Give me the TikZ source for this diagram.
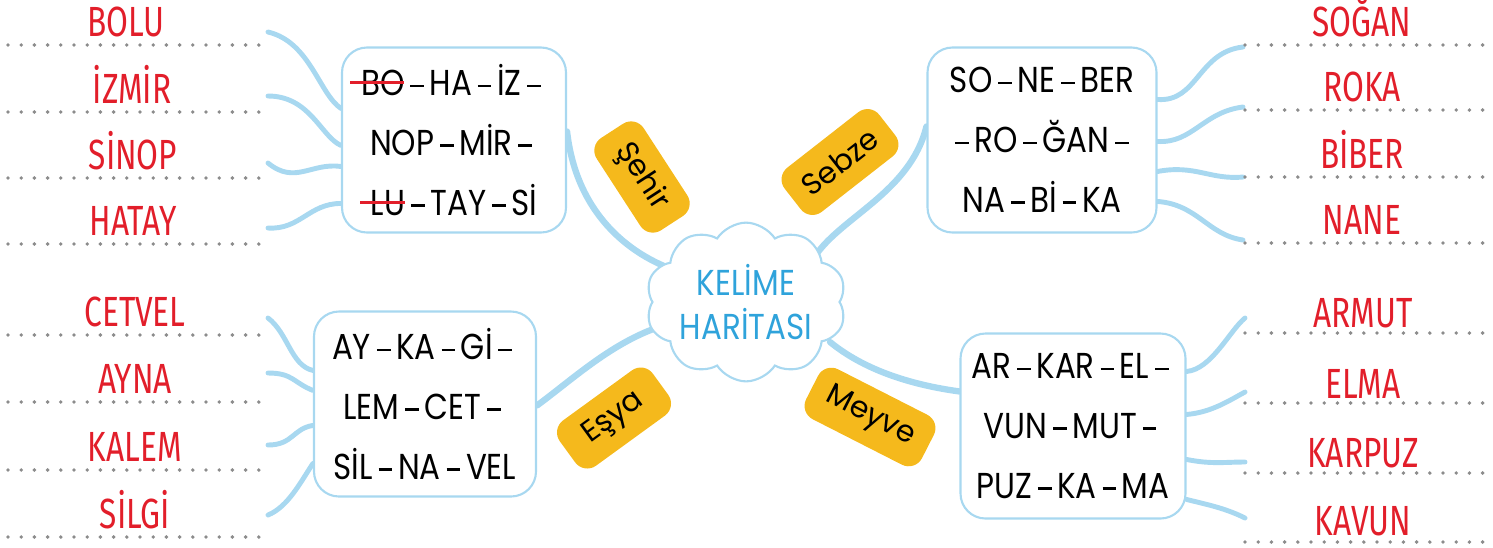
\documentclass[tikz,border=0pt]{standalone}
\usepackage{fontspec}
\setmainfont{Poppins}[FakeStretch=0.86]
\newfontfamily\tagfont{Poppins}
\newfontfamily\answerfont[FakeStretch=0.75]{Fira Sans}
\usetikzlibrary{shapes.symbols,calc,backgrounds}
\definecolor{linkblue}{HTML}{A8D8F0}
\definecolor{titleblue}{HTML}{2FA3DB}
\definecolor{tagorange}{HTML}{F5B91C}
\definecolor{wordred}{HTML}{E21E2A}
\definecolor{dotgray}{HTML}{8C8C8C}
\newcommand{\crossout}[1]{\setbox0=\hbox{#1}\copy0\llap{\textcolor{wordred}{\rule[0.45\ht0]{\dimexpr\wd0+0.3em\relax}{1.6pt}}}}
\newcommand{\sylsep}{\kern0.16em\rule[0.24em]{0.38em}{0.07em}\kern0.16em}
\begin{document}
\begin{tikzpicture}[x=0.2mm,y=0.2mm,
  every node/.style={inner sep=0pt},
  wordbox/.style={draw=linkblue,line width=1.2pt,fill=white,rounded corners=5mm,minimum height=37mm,align=center,font=\fontsize{20.5}{34}\selectfont},
  topic/.style={fill=tagorange,rounded corners=3mm,minimum width=22mm,minimum height=11.2mm,font=\tagfont\fontsize{17}{17}\selectfont},
  answer/.style={anchor=base,text=wordred,font=\answerfont\fontsize{24}{24}\selectfont},
  answerline/.style={draw=dotgray,line width=2.2pt,line cap=round,dash pattern=on 0pt off 2.64mm},
  twig/.style={draw=linkblue,line width=2.8pt,line cap=round},
  branch/.style={draw=linkblue,line width=3.6pt,line cap=round}]
\useasboundingbox (0,0) rectangle (1493,-547);

\node[cloud,cloud puffs=10,cloud puff arc=115,aspect=1.4,draw=linkblue,line width=1.2pt,fill=white,minimum width=39mm,minimum height=28.5mm,align=center,text=titleblue,font=\fontsize{20.5}{25.5}\selectfont] (kelime) at (746,-302) {KELİME\\HARİTASI};

\node[wordbox,minimum width=44.8mm] (sehirbox) at (454,-140) {\crossout{BO}\sylsep HA\sylsep İZ\sylsep\\NOP\sylsep MİR\sylsep\\\crossout{LU}\sylsep TAY\sylsep Sİ};
\node[wordbox,minimum width=45.8mm] (sebzebox) at (1042,-140) {SO\sylsep NE\sylsep BER\\\sylsep RO\sylsep ĞAN\sylsep\\NA\sylsep Bİ\sylsep KA};
\node[wordbox,minimum width=44.4mm] (esyabox) at (425,-404) {AY\sylsep KA\sylsep Gİ\sylsep\\LEM\sylsep CET\sylsep\\SİL\sylsep NA\sylsep VEL};
\node[wordbox,minimum width=45mm] (meyvebox) at (1073,-426) {AR\sylsep KAR\sylsep EL\sylsep\\VUN\sylsep MUT\sylsep\\PUZ\sylsep KA\sylsep MA};

\node[topic,rotate=-57] (sehirtag) at (642,-177) {Şehir};
\node[topic,rotate=38,minimum width=24mm] (sebzetag) at (840,-162) {Sebze};
\node[topic,rotate=36,minimum width=23mm] (esyatag) at (614,-418) {Eşya};
\node[topic,rotate=-27,minimum width=26mm] (meyvetag) at (870,-417) {Meyve};

\node[answer] (bolu) at (126,-36) {BOLU};
\node[answer] (izmir) at (132,-103) {İZMİR};
\node[answer] (sinop) at (133,-169) {SİNOP};
\node[answer] (hatay) at (133,-235) {HATAY};
\node[answer] (cetvel) at (135,-326) {CETVEL};
\node[answer] (ayna) at (135,-393) {AYNA};
\node[answer] (kalem) at (135,-461) {KALEM};
\node[answer] (silgi) at (135,-528) {SİLGİ};
\node[answer] (sogan) at (1362,-36) {SOĞAN};
\node[answer] (roka) at (1362,-101) {ROKA};
\node[answer] (biber) at (1362,-168) {BİBER};
\node[answer] (nane) at (1362,-234) {NANE};
\node[answer] (armut) at (1363,-327) {ARMUT};
\node[answer] (elma) at (1363,-398) {ELMA};
\node[answer] (karpuz) at (1363,-467) {KARPUZ};
\node[answer] (kavun) at (1363,-535) {KAVUN};

\draw[answerline] (8,-45) -- (268,-45);
\draw[answerline] (8,-112) -- (268,-112);
\draw[answerline] (8,-178) -- (268,-178);
\draw[answerline] (8,-244) -- (268,-244);
\draw[answerline] (8,-335) -- (268,-335);
\draw[answerline] (8,-402) -- (268,-402);
\draw[answerline] (8,-470) -- (268,-470);
\draw[answerline] (8,-537) -- (268,-537);
\draw[answerline] (1245,-45) -- (1485,-45);
\draw[answerline] (1245,-110) -- (1485,-110);
\draw[answerline] (1245,-177) -- (1485,-177);
\draw[answerline] (1245,-243) -- (1485,-243);
\draw[answerline] (1245,-333) -- (1485,-333);
\draw[answerline] (1245,-403) -- (1485,-403);
\draw[answerline] (1245,-473) -- (1485,-473);
\draw[answerline] (1245,-542) -- (1485,-542);

\coordinate (bolu-end) at (268,-32);
\coordinate (izmir-end) at (268,-96);
\coordinate (sinop-end) at (268,-163);
\coordinate (hatay-end) at (268,-228);
\coordinate (cetvel-end) at (268,-318);
\coordinate (ayna-end) at (268,-373);
\coordinate (kalem-end) at (268,-445);
\coordinate (silgi-end) at (268,-515);
\coordinate (sogan-end) at (1243,-47);
\coordinate (roka-end) at (1243,-107);
\coordinate (biber-end) at (1243,-177);
\coordinate (nane-end) at (1243,-240);
\coordinate (armut-end) at (1245,-318);
\coordinate (elma-end) at (1245,-392);
\coordinate (karpuz-end) at (1245,-462);
\coordinate (kavun-end) at (1245,-518);

\begin{scope}[on background layer]
\draw[branch] ($(sehirbox.north east)+(0,-85)$) .. controls +(9,-80) and +(-53,17) .. ($(kelime.center)+(-66,30)$);
\draw[branch] ($(sebzebox.north west)+(0,-80)$) .. controls +(-18,-73) and +(17,48) .. ($(kelime.center)+(62,32)$);
\draw[branch] ($(kelime.center)+(-90,-26)$) .. controls +(-47,-17) and +(34,25) .. ($(esyabox.north east)+(0,-95)$);
\draw[branch] ($(kelime.center)+(84,-40)$) .. controls +(33,-27) and +(-51,7) .. ($(meyvebox.north west)+(0,-59)$);

\draw[twig] (bolu-end) .. controls +(42,-10) and +(-22,15) .. ($(sehirbox.north west)+(0,-62)$);
\draw[twig] (izmir-end) .. controls +(42,0) and +(-20,9) .. ($(sehirbox.north west)+(0,-99)$);
\draw[twig] (sinop-end) .. controls +(27,-22) and +(-30,4) .. ($(sehirbox.north west)+(0,-120)$);
\draw[twig] (hatay-end) .. controls +(32,-2) and +(-32,0) .. ($(sehirbox.north west)+(0,-157)$);

\draw[twig] ($(sebzebox.north east)+(0,-53)$) .. controls +(40,-3) and +(-45,-5) .. (sogan-end);
\draw[twig] ($(sebzebox.north east)+(0,-95)$) .. controls +(35,-2) and +(-40,-5) .. (roka-end);
\draw[twig] ($(sebzebox.north east)+(0,-125)$) .. controls +(38,7) and +(-33,-3) .. (biber-end);
\draw[twig] ($(sebzebox.north east)+(0,-155)$) .. controls +(40,-3) and +(-35,5) .. (nane-end);

\draw[twig] (cetvel-end) .. controls +(20,-15) and +(-22,5) .. ($(esyabox.north west)+(0,-60)$);
\draw[twig] (ayna-end) .. controls +(25,0) and +(-20,8) .. ($(esyabox.north west)+(0,-80)$);
\draw[twig] (kalem-end) .. controls +(25,0) and +(-20,-3) .. ($(esyabox.north west)+(0,-115)$);
\draw[twig] (silgi-end) .. controls +(20,8) and +(-12,-18) .. ($(esyabox.north west)+(0,-153)$);

\draw[twig] ($(meyvebox.north east)+(0,-39)$) .. controls +(25,2) and +(-15,-12) .. (armut-end);
\draw[twig] ($(meyvebox.north east)+(0,-82)$) .. controls +(25,2) and +(-15,-8) .. (elma-end);
\draw[twig] ($(meyvebox.north east)+(0,-127)$) .. controls +(25,-5) and +(-20,0) .. (karpuz-end);
\draw[twig] ($(meyvebox.north east)+(0,-167)$) .. controls +(20,-5) and +(-20,10) .. (kavun-end);
\end{scope}
\end{tikzpicture}
\end{document}
